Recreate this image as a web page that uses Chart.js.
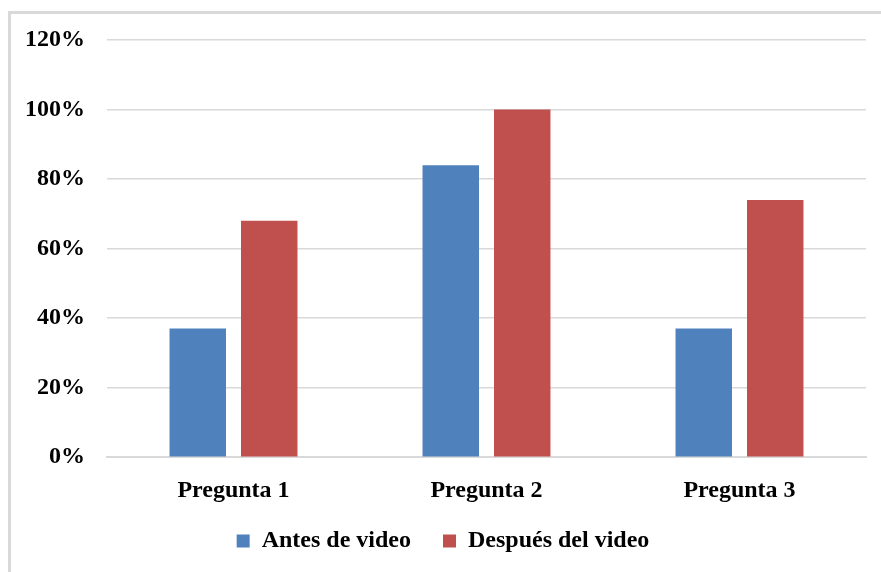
<!DOCTYPE html>
<html>
<head>
<meta charset="utf-8">
<script src="https://cdn.jsdelivr.net/npm/chart.js@4/dist/chart.umd.min.js"></script>
<style>
  html, body { margin: 0; padding: 0; background: #fff; }
  #frame {
    position: absolute; left: 8px; top: 11px; width: 900px; height: 600px;
    border-left: 3px solid #d9d9d9; border-top: 3px solid #d9d9d9;
  }
  #wrap { position: absolute; left: 0; top: 0; width: 881px; height: 572px; }
</style>
</head>
<body>
<div id="frame"></div>
<div id="wrap"><canvas id="chart"></canvas></div>
<script>
const categories = ['Pregunta 1', 'Pregunta 2', 'Pregunta 3'];
const antesValues = [37, 84, 37];
const despuesValues = [68, 100, 74];
const yTicks = [0, 20, 40, 60, 80, 100, 120];

const font = { family: '"Liberation Serif", "Times New Roman", serif', weight: 'bold', size: 24 };

new Chart(document.getElementById('chart'), {
  type: 'bar',
  data: {
    labels: categories,
    datasets: [
      { label: 'Antes de video', data: antesValues, backgroundColor: '#4F81BD' },
      { label: 'Después del video', data: despuesValues, backgroundColor: '#C0504D' }
    ]
  },
  options: {
    responsive: true,
    maintainAspectRatio: false,
    animation: false,
    categoryPercentage: 0.565,
    barPercentage: 0.79,
    layout: { padding: { top: 40, right: 15, left: 20, bottom: 9 } },
    plugins: {
      tooltip: { enabled: false },
      legend: {
        position: 'bottom',
        labels: { font, color: '#000', boxWidth: 13, boxHeight: 13, padding: 32 }
      }
    },
    scales: {
      x: {
        grid: { display: false, drawTicks: false },
        border: { color: '#d9d9d9', width: 2 },
        ticks: { font, color: '#000', padding: 19 },
        afterFit: s => {
          // let the legend sit closer; don't clip the labels to the shrunk box
          s.height -= 27;
          s._computeLabelArea = () => null;
        }
      },
      y: {
        min: 0,
        max: yTicks[yTicks.length - 1],
        afterBuildTicks: s => { s.ticks = yTicks.map(v => ({ value: v })); },
        afterFit: s => { s.width = 87; },
        grid: { color: '#d9d9d9', lineWidth: 1.5, drawTicks: false },
        border: { display: false },
        ticks: { font, color: '#000', padding: 22, callback: v => v + '%' }
      }
    }
  }
});
</script>
</body>
</html>
